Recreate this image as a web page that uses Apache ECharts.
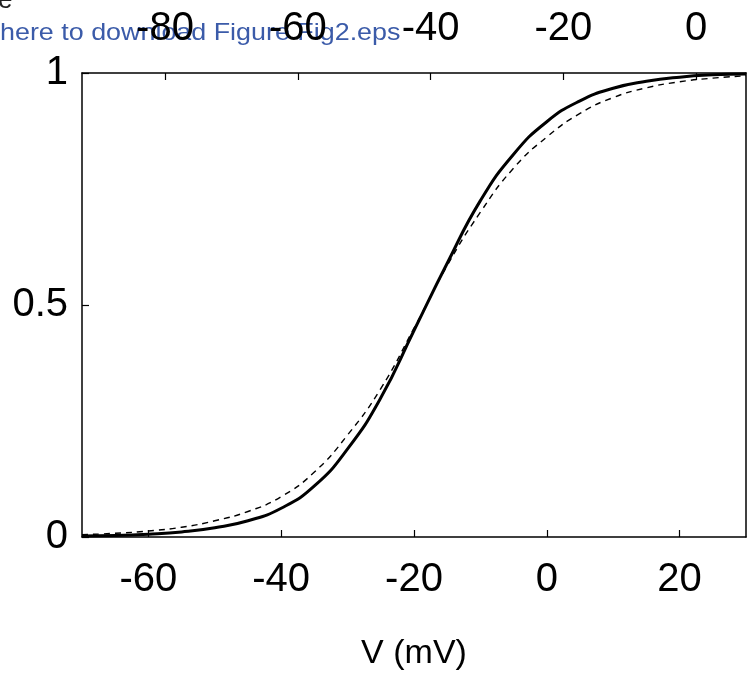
<!DOCTYPE html>
<html>
<head>
<meta charset="utf-8">
<script src="https://cdn.jsdelivr.net/npm/echarts@6/dist/echarts.min.js"></script>
<style>html,body{margin:0;padding:0;background:#fff}#c{width:752px;height:676px}</style>
</head>
<body>
<div id="c"></div>
<script>
// Data
var voltages = [-70,-65,-60,-55,-50,-45,-40,-35,-30,-25,-20,-15,-10,-5,0,5,10,15,20,25,30];
var solidValues = [0.002,0.003,0.006,0.011,0.02,0.035,0.062,0.11,0.19,0.30,0.445,0.59,0.725,0.825,0.895,0.94,0.967,0.982,0.991,0.996,0.998];
var dashedValues = [0.005,0.008,0.013,0.021,0.035,0.055,0.087,0.14,0.22,0.32,0.45,0.585,0.7,0.795,0.862,0.913,0.947,0.968,0.981,0.989,0.994];
var bottomTicks = [-60,-40,-20,0,20];
var topTicks = [-80,-60,-40,-20,0];
var yTicks = [0,0.5,1];
var xLabel = 'V (mV)';
var bannerText = 'here to download Figure Fig2.eps';

function pairs(xs, ys){ return xs.map(function(x,i){ return [x, ys[i]]; }); }

var FONT = '"Liberation Sans Narrow", "Liberation Sans", Arial, sans-serif';
var chart = echarts.init(document.getElementById('c'), null, {renderer:'canvas'});
chart.setOption({
  animation:false,
  backgroundColor:'#fff',
  grid:{left:82, right:6, top:73, bottom:129, containLabel:false},
  xAxis:[{
    type:'value', position:'bottom', min:-70, max:30,
    name:xLabel, nameLocation:'middle', nameGap:100,
    nameTextStyle:{fontFamily:'"Liberation Sans", Arial, sans-serif', fontSize:34, color:'#000'},
    axisLine:{show:true, onZero:false, lineStyle:{color:'#000', width:1.5}},
    axisTick:{show:true, inside:true, length:7, customValues:bottomTicks, lineStyle:{color:'#000', width:1.2}},
    axisLabel:{show:true, customValues:bottomTicks, margin:23, fontFamily:FONT, fontSize:40, color:'#000'},
    splitLine:{show:false}
  },{
    type:'value', position:'top', min:-92.5, max:7.5,
    axisLine:{show:true, onZero:false, lineStyle:{color:'#000', width:1.5}},
    axisTick:{show:true, inside:true, length:7, customValues:topTicks, lineStyle:{color:'#000', width:1.2}},
    axisLabel:{show:true, customValues:topTicks, margin:24, fontFamily:FONT, fontSize:40, color:'#000'},
    splitLine:{show:false}
  }],
  yAxis:[{
    type:'value', position:'left', min:0, max:1,
    axisLine:{show:true, onZero:false, lineStyle:{color:'#000', width:1.5}},
    axisTick:{show:true, inside:true, length:7, customValues:yTicks, lineStyle:{color:'#000', width:1.2}},
    axisLabel:{show:true, customValues:yTicks, margin:14, fontFamily:FONT, fontSize:40, color:'#000',
      formatter:function(v){ return String(v); }},
    splitLine:{show:false}
  },{
    type:'value', position:'right', min:0, max:1,
    axisLine:{show:true, onZero:false, lineStyle:{color:'#000', width:1.5}},
    axisTick:{show:false}, axisLabel:{show:false}, splitLine:{show:false}
  }],
  series:[{
    type:'line', xAxisIndex:0, yAxisIndex:0, data:pairs(voltages, dashedValues),
    showSymbol:false, smooth:0.5,
    lineStyle:{color:'#000', width:1.4, type:[6,5]}, z:2
  },{
    type:'line', xAxisIndex:0, yAxisIndex:0, data:pairs(voltages, solidValues),
    showSymbol:false, smooth:0.5,
    lineStyle:{color:'#000', width:3}, z:3
  }],
  graphic:[{
    type:'text', left:-2, top:-12, z:-1,
    style:{text:'e', fontFamily:'"Liberation Sans", Arial, sans-serif', fontSize:26, fill:'#222'}
  },{
    type:'text', left:0, top:21, z:-1, scaleX:1.12,
    style:{text:bannerText, fontFamily:'"Liberation Sans", Arial, sans-serif', fontSize:24, fill:'#3b5ba9'}
  }]
});
</script>
</body>
</html>
